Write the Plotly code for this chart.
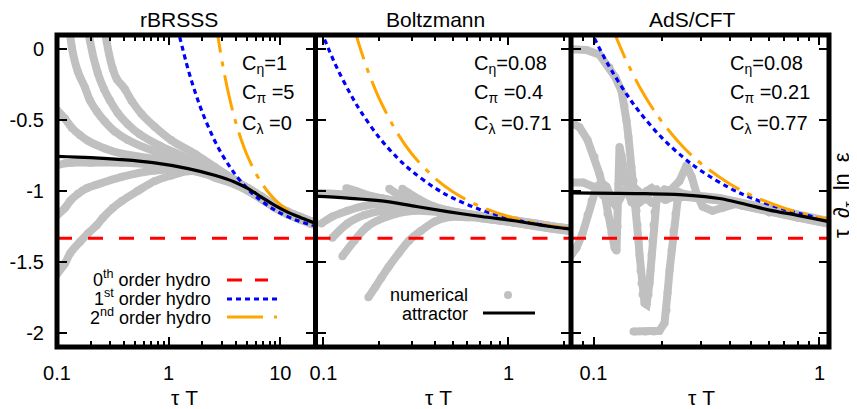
import math
import plotly.graph_objects as go

# ---------------- data ----------------
ZEROTH_ORDER = -4.0 / 3.0
Y_TICKS = [0, -0.5, -1, -1.5, -2]
Y_TICKTEXT = ["0", "-0.5", "-1", "-1.5", "-2"]

# panel x ranges (tauT)
P1_XRANGE = [0.1, 20.65]
P2_XRANGE = [0.0906, 2.178]
P3_XRANGE = [0.0795, 1.102]
Y_RANGE = [-2.1, 0.1]

P1_XTICKS = [0.1, 1, 10]
P1_XTICKTEXT = ["0.1", "1", "10"]
P1_XMINOR = [0.2, 0.3, 0.4, 0.5, 0.6, 0.7, 0.8, 0.9, 2, 3, 4, 5, 6, 7, 8, 9, 20]
P2_XTICKS = [0.1, 1]
P2_XTICKTEXT = ["0.1", "1"]
P2_XMINOR = [0.2, 0.3, 0.4, 0.5, 0.6, 0.7, 0.8, 0.9, 2]
P3_XTICKS = [0.1, 1]
P3_XTICKTEXT = ["0.1", "1"]
P3_XMINOR = [0.08, 0.09, 0.2, 0.3, 0.4, 0.5, 0.6, 0.7, 0.8, 0.9]

TITLES = ["rBRSSS", "Boltzmann", "AdS/CFT"]
P1_PARAMS = ["C<sub>η</sub>=1", "C<sub>π</sub> =5", "C<sub>λ</sub> =0"]
P2_PARAMS = ["C<sub>η</sub>=0.08", "C<sub>π</sub> =0.4", "C<sub>λ</sub> =0.71"]
P3_PARAMS = ["C<sub>η</sub>=0.08", "C<sub>π</sub> =0.21", "C<sub>λ</sub> =0.77"]

# ---- panel 1 : rBRSSS ----
P1_ATTR_T = [0.096, 0.2, 0.378, 0.75, 1.49, 2.58, 3.88, 5.11, 6.72, 8.84, 11.6, 15.3, 18.8, 21.0]
P1_ATTR_V = [-0.755, -0.765, -0.779, -0.802, -0.842, -0.889, -0.936, -0.982, -1.041, -1.100, -1.149, -1.188, -1.216, -1.228]

P1_HYDRO1_T = [1.2, 1.5, 1.75, 2.0, 2.5, 3.0, 3.5, 4.0, 5.0, 6.0, 8.0, 10.0, 13.0, 16.0, 20.7]
P1_HYDRO1_V = [0.148, -0.148, -0.317, -0.444, -0.622, -0.741, -0.825, -0.889, -0.978, -1.037, -1.111, -1.156, -1.197, -1.222, -1.247]
P1_HYDRO2_T = [2.6, 3.0, 3.5, 4.0, 4.5, 5.0, 6.0, 7.0, 8.0, 10.0, 13.0, 16.0, 20.7]
P1_HYDRO2_V = [0.227, -0.082, -0.342, -0.519, -0.646, -0.741, -0.872, -0.958, -1.019, -1.096, -1.161, -1.199, -1.232]

P1_UA_T = [0.09, 0.096, 0.118, 0.136, 0.16, 0.189, 0.268, 0.381, 0.75, 1.49]
P1_UA_V = [-0.34, -0.41, -0.49, -0.555, -0.605, -0.646, -0.70, -0.737, -0.775, -0.825]
P1_UB_T = [0.128, 0.136, 0.154, 0.178, 0.197, 0.228, 0.268, 0.329, 0.431, 0.75, 1.49, 2.58]
P1_UB_V = [0.2, 0.01, -0.16, -0.27, -0.36, -0.44, -0.51, -0.58, -0.64, -0.72, -0.79, -0.87]
P1_UC_T = [0.185, 0.197, 0.232, 0.263, 0.297, 0.35, 0.431, 0.551, 0.83, 1.49, 2.58]
P1_UC_V = [0.25, 0.06, -0.17, -0.28, -0.36, -0.45, -0.53, -0.60, -0.68, -0.77, -0.86]
P1_UD_T = [0.26, 0.279, 0.316, 0.343, 0.405, 0.465, 0.57, 0.75, 1.06, 1.71, 2.58, 3.88]
P1_UD_V = [0.25, 0.05, -0.14, -0.21, -0.28, -0.363, -0.456, -0.547, -0.643, -0.737, -0.83, -0.92]
P1_L1_T = [0.09, 0.118, 0.136, 0.2, 0.38, 0.75, 1.49]
P1_L1_V = [-0.83, -0.805, -0.80, -0.80, -0.80, -0.815, -0.85]
P1_L2_T = [0.09, 0.096, 0.118, 0.131, 0.154, 0.185, 0.218, 0.381, 0.75, 1.49]
P1_L2_V = [-1.24, -1.19, -1.12, -1.07, -1.02, -0.98, -0.96, -0.90, -0.856, -0.85]
P1_L3_T = [0.09, 0.096, 0.118, 0.131, 0.16, 0.189, 0.228, 0.257, 0.316, 0.381, 0.528, 0.75, 1.06, 1.48, 2.09]
P1_L3_V = [-1.68, -1.61, -1.51, -1.44, -1.36, -1.30, -1.24, -1.19, -1.12, -1.07, -1.0, -0.93, -0.89, -0.86, -0.87]

# ---- panel 2 : Boltzmann ----
P2_ATTR_T = [0.085, 0.1348, 0.206, 0.31, 0.468, 0.714, 1.077, 1.625, 2.25]
P2_ATTR_V = [-1.034, -1.05, -1.07, -1.107, -1.145, -1.18, -1.21, -1.247, -1.272]

P2_HYDRO1_T = [0.09, 0.1, 0.11, 0.12, 0.14, 0.16, 0.2, 0.25, 0.3, 0.4, 0.5, 0.7, 1.0, 1.4, 2.2]
P2_HYDRO1_V = [0.247, 0.089, -0.040, -0.148, -0.317, -0.444, -0.622, -0.764, -0.859, -0.978, -1.049, -1.130, -1.191, -1.232, -1.269]
P2_HYDRO2_T = [0.145, 0.16, 0.18, 0.2, 0.25, 0.3, 0.4, 0.5, 0.7, 1.0, 1.4, 2.2]
P2_HYDRO2_V = [0.171, -0.015, -0.204, -0.347, -0.588, -0.737, -0.909, -1.005, -1.108, -1.180, -1.226, -1.266]

P2_U0_T = [0.085, 0.1348, 0.206, 0.31]
P2_U0_V = [-1.01, -1.025, -1.05, -1.095]
P2_U1_T = [0.133, 0.15, 0.18, 0.22, 0.31]
P2_U1_V = [-0.98, -1.0, -1.035, -1.06, -1.10]
P2_U2_T = [0.227, 0.25, 0.29, 0.34, 0.40, 0.468]
P2_U2_V = [-0.985, -1.02, -1.065, -1.10, -1.125, -1.14]
P2_U3_T = [0.267, 0.29, 0.33, 0.39, 0.468]
P2_U3_V = [-0.985, -1.015, -1.06, -1.105, -1.135]
P2_LA_T = [0.0975, 0.1118, 0.1348, 0.1666, 0.206, 0.31, 0.468]
P2_LA_V = [-1.23, -1.18, -1.14, -1.105, -1.09, -1.115, -1.15]
P2_LB_T = [0.1118, 0.1348, 0.1666, 0.206, 0.31, 0.468]
P2_LB_V = [-1.33, -1.23, -1.17, -1.14, -1.125, -1.15]
P2_LC_T = [0.1267, 0.1471, 0.1729, 0.2218, 0.31, 0.468]
P2_LC_V = [-1.46, -1.35, -1.25, -1.18, -1.14, -1.155]
P2_LD_T = [0.175, 0.19, 0.206, 0.225, 0.255, 0.29, 0.337, 0.40, 0.47, 0.60, 0.714]
P2_LD_V = [-1.75, -1.68, -1.61, -1.535, -1.44, -1.35, -1.28, -1.215, -1.185, -1.185, -1.19]

# ---- panel 3 : AdS/CFT ----
P3_ATTR_T = [0.0783, 0.155, 0.258, 0.361, 0.456, 0.601, 0.791, 1.074, 1.12]
P3_ATTR_V = [-1.013, -1.018, -1.029, -1.053, -1.088, -1.135, -1.170, -1.212, -1.218]

P3_HYDRO1_T = [0.097, 0.1, 0.11, 0.12, 0.14, 0.16, 0.2, 0.25, 0.3, 0.4, 0.5, 0.7, 1.0, 1.12]
P3_HYDRO1_V = [0.133, 0.089, -0.040, -0.148, -0.317, -0.444, -0.622, -0.764, -0.859, -0.978, -1.049, -1.130, -1.191, -1.206]
P3_HYDRO2_T = [0.12, 0.13, 0.14, 0.16, 0.18, 0.2, 0.25, 0.3, 0.4, 0.5, 0.7, 1.0, 1.12]
P3_HYDRO2_V = [0.170, 0.032, -0.084, -0.266, -0.402, -0.508, -0.691, -0.808, -0.949, -1.031, -1.121, -1.187, -1.203]

P3_A_T = [0.0783, 0.0931, 0.1063, 0.1177, 0.1251, 0.1330, 0.1371, 0.1400, 0.1428, 0.1473, 0.1503, 0.1534,
          0.155, 0.1566, 0.1582, 0.1598, 0.1614, 0.1631, 0.1648, 0.1682, 0.1717, 0.1752, 0.177, 0.1788,
          0.1806, 0.1824, 0.1843, 0.1862, 0.190, 0.1959, 0.2062, 0.2237]
P3_A_V = [0.0, -0.005, -0.04, -0.13, -0.2, -0.295, -0.40, -0.505, -0.62, -0.83, -0.93, -1.03,
          -1.14, -1.24, -1.35, -1.45, -1.56, -1.65, -1.73, -1.79, -1.80, -1.73, -1.65, -1.56,
          -1.45, -1.35, -1.24, -1.15, -1.07, -1.02, -0.99, -1.0]
P3_B_T = [0.1503, 0.170, 0.185, 0.1959, 0.2062, 0.2104, 0.2126, 0.2170, 0.2214, 0.2259, 0.2306, 0.2353, 0.2427]
P3_B_V = [-1.99, -1.99, -1.99, -1.985, -1.93, -1.84, -1.72, -1.56, -1.42, -1.28, -1.16, -1.07, -1.02]
P3_C_T = [0.0783, 0.0867, 0.0941, 0.1010, 0.1063, 0.1118, 0.1153, 0.1201, 0.1240, 0.1264, 0.1277, 0.1290,
          0.1303, 0.1330, 0.1372, 0.1414, 0.1473, 0.155, 0.1631, 0.172, 0.1806, 0.190, 0.2062, 0.2237]
P3_C_V = [-0.51, -0.55, -0.64, -0.76, -0.88, -1.02, -1.16, -1.30, -1.40, -1.42, -1.25, -0.95,
          -0.69, -0.75, -0.88, -1.0, -1.08, -1.10, -1.06, -1.0, -0.98, -1.02, -1.06, -1.04]
P3_E_T = [0.0783, 0.0841, 0.0894, 0.0941, 0.0980, 0.1031, 0.1085, 0.1142, 0.1201, 0.1251, 0.1303, 0.137,
          0.145, 0.152, 0.16, 0.17, 0.18, 0.19, 0.20, 0.21, 0.225, 0.24]
P3_E_V = [-1.47, -1.40, -1.30, -1.17, -1.07, -0.97, -0.94, -0.97, -1.05, -1.10, -1.06, -1.00,
          -0.98, -1.03, -1.08, -1.05, -1.00, -0.99, -1.03, -1.06, -1.04, -1.01]
P3_F_T = [0.0783, 0.09, 0.10, 0.11, 0.12, 0.13, 0.14, 0.15, 0.16, 0.17, 0.18, 0.19, 0.20, 0.217, 0.24,
          0.258, 0.272, 0.286, 0.304, 0.336, 0.372, 0.43]
P3_F_V = [-0.94, -0.94, -0.97, -1.03, -1.08, -1.05, -0.99, -0.97, -1.01, -1.06, -1.08, -1.06, -1.02, -1.0, -0.93,
          -0.82, -0.90, -1.02, -1.11, -1.14, -1.12, -1.09]

# ---------------- styling ----------------
FONT = "Liberation Sans, Arial, Helvetica, sans-serif"
GRAY = "#c0c0c0"
RED = "#ff0000"
BLUE = "#0000ff"
ORANGE = "#ffa500"

PAGE_OFFSET = 8  # default body margin of the html page
W, H = 857 - PAGE_OFFSET, 409 - PAGE_OFFSET
ML, MR, MT, MB = 57 - PAGE_OFFSET, 28, 35 - PAGE_OFFSET, 62
PW, PH = W - ML - MR, H - MT - MB


def px(x):
    """reference-screenshot x pixel -> paper fraction"""
    return (x - PAGE_OFFSET - ML) / PW


def py(y):
    """reference-screenshot y pixel -> paper fraction"""
    return (H - MB - (y - PAGE_OFFSET)) / PH


DOMAINS = [[0, px(315.5)], [px(315.5), px(571)], [px(571), 1]]


def with_tail(t, v, at, av, dv=0.0):
    last = t[-1]
    tt = list(t) + [a for a in at if a > last * 1.05]
    vv = list(v) + [b + dv for a, b in zip(at, av) if a > last * 1.05]
    return tt, vv


fig = go.Figure()

panels = [
    dict(ax="x", ay="y", xr=P1_XRANGE, attr=(P1_ATTR_T, P1_ATTR_V),
         h1=(P1_HYDRO1_T, P1_HYDRO1_V), h2=(P1_HYDRO2_T, P1_HYDRO2_V), shape="spline",
         gray=[(P1_UA_T, P1_UA_V, 0.004), (P1_UB_T, P1_UB_V, 0.004), (P1_UC_T, P1_UC_V, 0.0),
               (P1_UD_T, P1_UD_V, 0.0), (P1_L1_T, P1_L1_V, -0.006), (P1_L2_T, P1_L2_V, -0.012),
               (P1_L3_T, P1_L3_V, -0.016)]),
    dict(ax="x2", ay="y2", xr=P2_XRANGE, attr=(P2_ATTR_T, P2_ATTR_V),
         h1=(P2_HYDRO1_T, P2_HYDRO1_V), h2=(P2_HYDRO2_T, P2_HYDRO2_V), shape="spline",
         gray=[(P2_U0_T, P2_U0_V, 0.004), (P2_U1_T, P2_U1_V, 0.004), (P2_U2_T, P2_U2_V, 0.0),
               (P2_U3_T, P2_U3_V, 0.0), (P2_LA_T, P2_LA_V, -0.006), (P2_LB_T, P2_LB_V, -0.01),
               (P2_LC_T, P2_LC_V, -0.012), (P2_LD_T, P2_LD_V, -0.014)]),
    dict(ax="x3", ay="y3", xr=P3_XRANGE, attr=(P3_ATTR_T, P3_ATTR_V),
         h1=(P3_HYDRO1_T, P3_HYDRO1_V), h2=(P3_HYDRO2_T, P3_HYDRO2_V), shape="linear",
         gray=[(P3_A_T, P3_A_V, 0.004), (P3_B_T, P3_B_V, -0.01), (P3_C_T, P3_C_V, -0.014),
               (P3_E_T, P3_E_V, -0.008), (P3_F_T, P3_F_V, -0.016)]),
]

for p in panels:
    at, av = p["attr"]
    for (t, v, dv) in p["gray"]:
        tt, vv = with_tail(t, v, at, av, dv)
        fig.add_trace(go.Scatter(
            x=tt, y=vv, xaxis=p["ax"], yaxis=p["ay"], mode="lines+markers",
            line=dict(color=GRAY, width=8, shape=p["shape"]),
            marker=dict(color=GRAY, size=8), showlegend=False, hoverinfo="skip"))
    fig.add_trace(go.Scatter(
        x=p["xr"], y=[ZEROTH_ORDER, ZEROTH_ORDER], xaxis=p["ax"], yaxis=p["ay"], mode="lines",
        line=dict(color=RED, width=3, dash="15px,16px"), showlegend=False, hoverinfo="skip"))
    fig.add_trace(go.Scatter(
        x=p["h1"][0], y=p["h1"][1], xaxis=p["ax"], yaxis=p["ay"], mode="lines",
        line=dict(color=BLUE, width=3.2, dash="5px,4px", shape="spline"), showlegend=False, hoverinfo="skip"))
    fig.add_trace(go.Scatter(
        x=p["h2"][0], y=p["h2"][1], xaxis=p["ax"], yaxis=p["ay"], mode="lines",
        line=dict(color=ORANGE, width=3, dash="36px,9px,5px,9px", shape="spline"), showlegend=False,
        hoverinfo="skip"))
    fig.add_trace(go.Scatter(
        x=at, y=av, xaxis=p["ax"], yaxis=p["ay"], mode="lines",
        line=dict(color="black", width=3.2, shape="spline"), showlegend=False, hoverinfo="skip"))

tickfont = dict(family=FONT, size=20, color="black")


def xaxis_cfg(i, rng, tv, tt, minor):
    return dict(domain=DOMAINS[i], anchor=["y", "y2", "y3"][i], type="log",
                range=[math.log10(rng[0]), math.log10(rng[1])],
                tickmode="array", tickvals=tv, ticktext=tt, ticks="inside", ticklen=10,
                tickwidth=2, tickcolor="black", showline=True, linewidth=1, linecolor="black",
                mirror="ticks", showgrid=False, zeroline=False, tickfont=tickfont,
                ticklabelstandoff=8, automargin=False,
                minor=dict(tickmode="array", tickvals=minor, ticks="inside", ticklen=6,
                           tickwidth=2, tickcolor="black", showgrid=False))


def yaxis_cfg(i):
    return dict(domain=[0, 1], anchor=["x", "x2", "x3"][i], range=Y_RANGE,
                tickmode="array", tickvals=Y_TICKS, ticktext=Y_TICKTEXT,
                showticklabels=(i == 0), ticks="inside", ticklen=10, tickwidth=2,
                tickcolor="black", showline=True, linewidth=1, linecolor="black",
                mirror="ticks", showgrid=False, zeroline=False, tickfont=tickfont,
                ticklabelstandoff=8, automargin=False)


annotations = []
# panel titles
for x, txt in zip([179, 435, 692.5], TITLES):
    annotations.append(dict(x=px(x), y=py(20), xref="paper", yref="paper", text=txt,
                            showarrow=False, xanchor="center", yanchor="middle",
                            font=dict(family=FONT, size=21, color="black")))
# x titles
for x in [184, 438, 701]:
    annotations.append(dict(x=px(x), y=py(397), xref="paper", yref="paper", text="τ T",
                            showarrow=False, xanchor="center", yanchor="middle",
                            font=dict(family=FONT, size=21, color="black")))
# right y title
annotations.append(dict(x=px(843), y=py(195), xref="paper", yref="paper",
                        text="τ\u2002∂<sub>τ</sub>\u2002ln\u2002ε", textangle=-90, showarrow=False,
                        xanchor="center", yanchor="middle",
                        font=dict(family=FONT, size=22, color="black")))
# parameter labels
for x0, params in zip([240, 471.7, 728], [P1_PARAMS, P2_PARAMS, P3_PARAMS]):
    for yc, txt in zip([64, 93, 125], params):
        annotations.append(dict(x=px(x0), y=py(yc), xref="paper", yref="paper", text=txt,
                                showarrow=False, xanchor="left", yanchor="middle",
                                font=dict(family=FONT, size=20, color="black")))
# legend texts
legfont = dict(family=FONT, size=18, color="black")
for yc, txt in zip([278, 297, 316],
                   ["0<sup>th</sup> order hydro", "1<sup>st</sup> order hydro", "2<sup>nd</sup> order hydro"]):
    annotations.append(dict(x=px(213), y=py(yc), xref="paper", yref="paper", text=txt,
                            showarrow=False, xanchor="right", yanchor="middle", font=legfont))
for yc, txt in zip([294.5, 313.5], ["numerical", "attractor"]):
    annotations.append(dict(x=px(470), y=py(yc), xref="paper", yref="paper", text=txt,
                            showarrow=False, xanchor="right", yanchor="middle", font=legfont))

shapes = []
# legend samples
shapes.append(dict(type="line", xref="paper", yref="paper", x0=px(227), x1=px(268),
                   y0=py(280), y1=py(280), line=dict(color=RED, width=3, dash="15px,13px")))
shapes.append(dict(type="line", xref="paper", yref="paper", x0=px(227), x1=px(277),
                   y0=py(299), y1=py(299), line=dict(color=BLUE, width=3.2, dash="5px,4px")))
shapes.append(dict(type="line", xref="paper", yref="paper", x0=px(227), x1=px(277),
                   y0=py(317), y1=py(317), line=dict(color=ORANGE, width=3, dash="36px,11px,3px,10px")))
shapes.append(dict(type="circle", xref="paper", yref="paper", x0=px(504), x1=px(512),
                   y0=py(299), y1=py(291), fillcolor=GRAY, line=dict(color=GRAY, width=0)))
shapes.append(dict(type="line", xref="paper", yref="paper", x0=px(483), x1=px(535),
                   y0=py(313), y1=py(313), line=dict(color="black", width=3.2)))
# frames
shapes.append(dict(type="rect", xref="paper", yref="paper", x0=0, x1=1, y0=0, y1=1,
                   line=dict(color="black", width=5), fillcolor="rgba(0,0,0,0)"))
for d in [DOMAINS[0][1], DOMAINS[1][1]]:
    shapes.append(dict(type="line", xref="paper", yref="paper", x0=d, x1=d, y0=0, y1=1,
                       line=dict(color="black", width=5)))

fig.update_layout(
    width=W, height=H, margin=dict(l=ML, r=MR, t=MT, b=MB),
    paper_bgcolor="white", plot_bgcolor="white", showlegend=False,
    xaxis=xaxis_cfg(0, P1_XRANGE, P1_XTICKS, P1_XTICKTEXT, P1_XMINOR),
    xaxis2=xaxis_cfg(1, P2_XRANGE, P2_XTICKS, P2_XTICKTEXT, P2_XMINOR),
    xaxis3=xaxis_cfg(2, P3_XRANGE, P3_XTICKS, P3_XTICKTEXT, P3_XMINOR),
    yaxis=yaxis_cfg(0), yaxis2=yaxis_cfg(1), yaxis3=yaxis_cfg(2),
    annotations=annotations, shapes=shapes,
)

fig.write_html("out.html")
